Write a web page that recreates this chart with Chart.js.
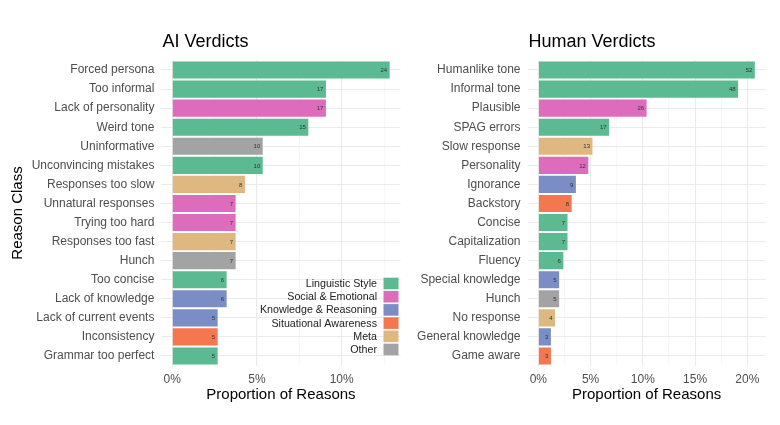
<!DOCTYPE html>
<html>
<head>
<meta charset="utf-8">
<script src="https://cdn.jsdelivr.net/npm/chart.js@4"></script>
<style>
  html, body { margin: 0; padding: 0; background: #fff; }
  #wrap { position: relative; width: 780px; height: 425px; }
  canvas { position: absolute; top: 0; }
</style>
</head>
<body>
<div id="wrap">
  <canvas id="aiChart" width="405" height="425" style="left:0"></canvas>
  <canvas id="humanChart" width="375" height="425" style="left:405px"></canvas>
</div>
<script>
// Reason groups and their fill colours
const groupNames = ['Linguistic Style', 'Social & Emotional', 'Knowledge & Reasoning', 'Situational Awareness', 'Meta', 'Other'];
const groupColors = ['#5bba92', '#de6cbd', '#7b8dc5', '#f5774f', '#dfb881', '#a3a3a3'];

// AI verdicts
const aiReasons = ['Forced persona', 'Too informal', 'Lack of personality', 'Weird tone', 'Uninformative',
  'Unconvincing mistakes', 'Responses too slow', 'Unnatural responses', 'Trying too hard', 'Responses too fast',
  'Hunch', 'Too concise', 'Lack of knowledge', 'Lack of current events', 'Inconsistency', 'Grammar too perfect'];
const aiShares = [12.83, 9.07, 9.07, 8.03, 5.34, 5.34, 4.29, 3.74, 3.74, 3.74, 3.74, 3.21, 3.21, 2.68, 2.68, 2.68];
const aiCounts = [24, 17, 17, 15, 10, 10, 8, 7, 7, 7, 7, 6, 6, 5, 5, 5];
const aiGroups = [0, 0, 1, 0, 5, 0, 4, 1, 1, 4, 5, 0, 2, 2, 3, 0];
const aiTicks = [0, 2.5, 5, 7.5, 10, 12.5];

// Human verdicts
const humanReasons = ['Humanlike tone', 'Informal tone', 'Plausible', 'SPAG errors', 'Slow response',
  'Personality', 'Ignorance', 'Backstory', 'Concise', 'Capitalization', 'Fluency', 'Special knowledge',
  'Hunch', 'No response', 'General knowledge', 'Game aware'];
const humanShares = [20.72, 19.12, 10.36, 6.77, 5.18, 4.78, 3.59, 3.19, 2.79, 2.79, 2.39, 1.99, 1.99, 1.59, 1.20, 1.20];
const humanCounts = [52, 48, 26, 17, 13, 12, 9, 8, 7, 7, 6, 5, 5, 4, 3, 3];
const humanGroups = [0, 0, 1, 0, 4, 1, 2, 3, 0, 0, 0, 2, 5, 4, 2, 3];
const humanTicks = [0, 2.5, 5, 7.5, 10, 12.5, 15, 17.5, 20];

const FONT = "'Liberation Sans', Arial, sans-serif";
const TICK_COLOR = '#4d4d4d';

function makeChart(canvasId, cfg) {
  // small count labels at the end of each bar
  const countLabels = {
    id: 'countLabels',
    afterDatasetsDraw(chart) {
      const ctx = chart.ctx;
      const meta = chart.getDatasetMeta(0);
      ctx.save();
      ctx.font = '6px ' + FONT;
      ctx.fillStyle = '#333';
      ctx.textAlign = 'right';
      ctx.textBaseline = 'middle';
      meta.data.forEach(function(bar, i) {
        ctx.fillText(String(cfg.counts[i]), bar.x - 2.5, bar.y + 0.5);
      });
      ctx.restore();
    }
  };

  // panel title, aligned with the panel's left edge
  const panelTitle = {
    id: 'panelTitle',
    afterDraw(chart) {
      const ctx = chart.ctx;
      ctx.save();
      ctx.font = '18px ' + FONT;
      ctx.fillStyle = '#000';
      ctx.textAlign = 'left';
      ctx.textBaseline = 'alphabetic';
      ctx.fillText(cfg.title, chart.chartArea.left + 1, 46.5);
      ctx.restore();
    }
  };

  // legend inside the panel, labels right-aligned with keys on the right
  const groupLegend = {
    id: 'groupLegend',
    afterDraw(chart) {
      if (!cfg.legend) return;
      const ctx = chart.ctx;
      const area = chart.chartArea;
      const keyRight = area.right - 2;
      const step = 13.2;
      const lastY = area.bottom - 16;
      ctx.save();
      ctx.font = '10.7px ' + FONT;
      ctx.textAlign = 'right';
      ctx.textBaseline = 'middle';
      groupNames.forEach(function(name, i) {
        const y = lastY - (groupNames.length - 1 - i) * step;
        ctx.fillStyle = groupColors[i];
        ctx.fillRect(keyRight - 15, y - 5.8, 15, 11.6);
        ctx.fillStyle = '#222';
        ctx.fillText(name, keyRight - 21.5, y + 0.5);
      });
      ctx.restore();
    }
  };

  return new Chart(document.getElementById(canvasId), {
    type: 'bar',
    data: {
      labels: cfg.labels,
      datasets: [{
        data: cfg.shares,
        backgroundColor: cfg.groups.map(g => groupColors[g]),
        borderWidth: 0,
        categoryPercentage: 1,
        barPercentage: 0.9
      }]
    },
    options: {
      indexAxis: 'y',
      responsive: false,
      animation: false,
      layout: { padding: { left: 0, right: cfg.padRight, top: 60.5, bottom: 21.5 } },
      scales: {
        x: {
          min: cfg.xmin,
          max: cfg.xmax,
          afterBuildTicks: function(scale) {
            scale.ticks = cfg.ticks.map(v => ({ value: v }));
          },
          afterFit: function(scale) { scale.height = 38; },
          border: { display: false },
          grid: {
            drawTicks: false,
            color: c => (c.tick && c.tick.value % 5 === 0) ? '#ebebeb' : '#f4f4f4',
            lineWidth: c => (c.tick && c.tick.value % 5 === 0) ? 1.1 : 0.7
          },
          ticks: {
            padding: 7,
            color: TICK_COLOR,
            font: { family: FONT, size: 12 },
            maxRotation: 0,
            autoSkip: false,
            callback: v => (v % 5 === 0) ? v + '%' : ''
          },
          title: {
            display: true,
            text: 'Proportion of Reasons',
            color: '#000',
            font: { family: FONT, size: 15 },
            padding: { top: 0, bottom: 0 }
          }
        },
        y: {
          afterFit: function(scale) { scale.width = cfg.yWidth; },
          border: { display: false },
          grid: { offset: false, drawTicks: false, color: '#ebebeb', lineWidth: 1.1 },
          ticks: {
            padding: 7,
            color: TICK_COLOR,
            font: { family: FONT, size: 12 },
            autoSkip: false
          },
          title: {
            display: cfg.yTitle,
            text: 'Reason Class',
            color: '#000',
            font: { family: FONT, size: 15 },
            padding: { top: 9, bottom: 0 }
          }
        }
      },
      plugins: {
        legend: { display: false },
        tooltip: { enabled: false }
      }
    },
    plugins: [countLabels, panelTitle, groupLegend]
  });
}

makeChart('aiChart', {
  title: 'AI Verdicts',
  labels: aiReasons, shares: aiShares, counts: aiCounts, groups: aiGroups, ticks: aiTicks,
  xmin: -0.64, xmax: 13.47, yWidth: 161.4, padRight: 4.5, yTitle: true, legend: true
});

makeChart('humanChart', {
  title: 'Human Verdicts',
  labels: humanReasons, shares: humanShares, counts: humanCounts, groups: humanGroups, ticks: humanTicks,
  xmin: -1.04, xmax: 21.76, yWidth: 122.5, padRight: 14.3, yTitle: false, legend: false
});
</script>
</body>
</html>
